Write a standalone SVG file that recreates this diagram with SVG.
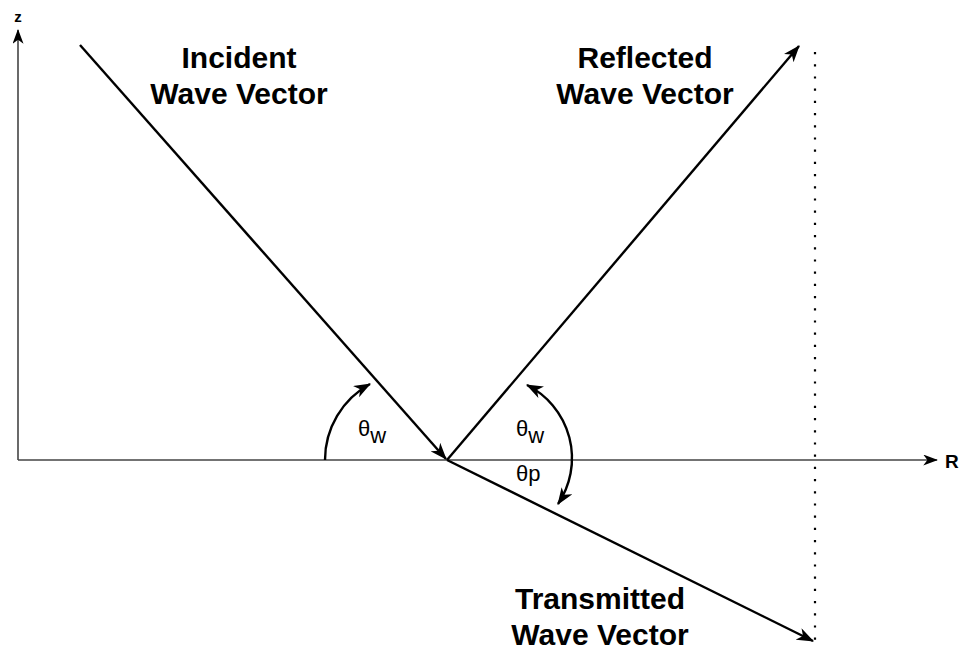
<svg xmlns="http://www.w3.org/2000/svg" width="961" height="650" viewBox="0 0 961 650">
<style>
.lbl{font-family:"Liberation Sans",Arial,sans-serif;font-weight:bold;font-size:30px;fill:#000;text-anchor:middle}
.ax{font-family:"Liberation Sans",Arial,sans-serif;font-weight:bold;fill:#000}
.th{font-family:"Liberation Sans",Arial,sans-serif;font-size:22px;fill:#000}
.vec{stroke:#000;stroke-width:2.4;fill:none}
.axis{stroke:#444;stroke-width:1.6;fill:none}
</style>
<defs>
<marker id="ah" viewBox="0 0 16 12" refX="15" refY="6" markerWidth="17" markerHeight="13" markerUnits="userSpaceOnUse" orient="auto-start-reverse">
<path d="M0,0 L16,6 L0,12 L4.5,6 z" fill="#000"/>
</marker>
<marker id="ahs" viewBox="0 0 16 12" refX="15" refY="6" markerWidth="15" markerHeight="11" markerUnits="userSpaceOnUse" orient="auto">
<path d="M0,0 L16,6 L0,12 L4.5,6 z" fill="#000"/>
</marker>
</defs>
<rect width="961" height="650" fill="#fff"/>
<g id="connectors">
<line class="axis" x1="18" y1="460" x2="18" y2="30" marker-end="url(#ahs)"/>
<line class="axis" x1="18" y1="460" x2="937" y2="460" marker-end="url(#ahs)"/>
<line stroke="#000" stroke-width="2.2" stroke-dasharray="2.2 10" x1="815" y1="52" x2="815" y2="643"/>
<line class="vec" x1="80" y1="45" x2="446" y2="459" marker-end="url(#ah)"/>
<line class="vec" x1="447" y1="460" x2="799" y2="46" marker-end="url(#ah)"/>
<line class="vec" x1="447" y1="460" x2="813" y2="641" marker-end="url(#ah)"/>
<path class="vec" d="M325,460 A86.7,86.7 0 0 1 370,384" marker-end="url(#ah)"/>
<path class="vec" d="M527,385 A82,82 0 0 1 558,504" marker-start="url(#ah)" marker-end="url(#ah)"/>
</g>
<g id="z-label"><text class="ax" x="18" y="22" font-size="15" text-anchor="middle">z</text></g>
<g id="r-label"><text class="ax" x="945" y="468" font-size="19">R</text></g>
<g id="incident"><text class="lbl" x="239" y="68">Incident</text><text class="lbl" x="239" y="104">Wave Vector</text></g>
<g id="reflected"><text class="lbl" x="645" y="68">Reflected</text><text class="lbl" x="645" y="104">Wave Vector</text></g>
<g id="transmitted"><text class="lbl" x="600" y="609">Transmitted</text><text class="lbl" x="600" y="645">Wave Vector</text></g>
<g id="theta-w-left"><text class="th" x="358" y="436">θ<tspan dy="7">w</tspan></text></g>
<g id="theta-w-right"><text class="th" x="516" y="436">θ<tspan dy="7">w</tspan></text></g>
<g id="theta-p"><text class="th" x="516" y="481">θp</text></g>
</svg>
